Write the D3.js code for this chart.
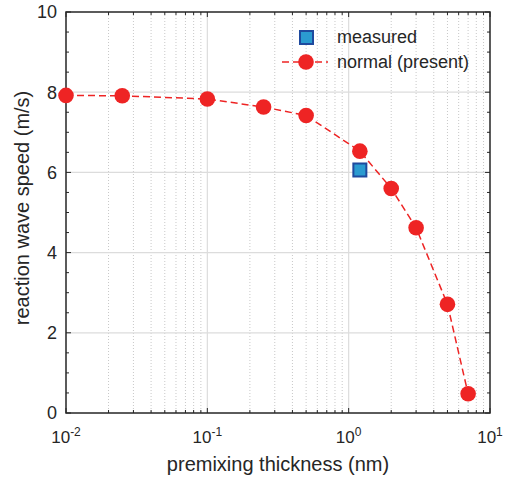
<!DOCTYPE html>
<html>
<head>
<meta charset="utf-8">
<script src="https://cdn.jsdelivr.net/npm/d3@7"></script>
<style>
  body { margin: 0; background: #fff; }
  text { font-family: "Liberation Sans", Arial, sans-serif; fill: #262626; }
</style>
</head>
<body>
<svg id="chart" width="511" height="479"></svg>
<script>
const thickness = [0.01, 0.025, 0.1, 0.25, 0.5, 1.2, 2, 3, 5, 7];
const speed = [7.92, 7.91, 7.83, 7.63, 7.42, 6.53, 5.6, 4.62, 2.71, 0.48];
const measuredX = [1.2];
const measuredY = [6.06];
const yTicks = [0, 2, 4, 6, 8, 10];
const xDecades = [-2, -1, 0, 1];

const svg = d3.select("#chart");
const margin = { top: 12, right: 21, bottom: 66, left: 66 };
const width = 511 - margin.left - margin.right;
const height = 479 - margin.top - margin.bottom;

const g = svg.append("g").attr("transform", `translate(${margin.left},${margin.top})`);

const x = d3.scaleLog().domain([0.01, 10]).range([0, width]);
const y = d3.scaleLinear().domain([0, 10]).range([height, 0]);

// minor log values
const minors = [];
xDecades.slice(0, -1).forEach(e => {
  for (let k = 2; k <= 9; k++) minors.push(k * Math.pow(10, e));
});
const majors = xDecades.map(e => Math.pow(10, e));

// grid
g.append("g").selectAll("line").data(minors).enter().append("line")
  .attr("x1", d => x(d)).attr("x2", d => x(d))
  .attr("y1", 0).attr("y2", height)
  .attr("stroke", "#c8c8c8").attr("stroke-width", 1)
  .attr("stroke-dasharray", "1,2");

g.append("g").selectAll("line").data(majors.slice(1, -1)).enter().append("line")
  .attr("x1", d => x(d)).attr("x2", d => x(d))
  .attr("y1", 0).attr("y2", height)
  .attr("stroke", "#dcdcdc").attr("stroke-width", 1.2);

g.append("g").selectAll("line").data(yTicks.slice(1, -1)).enter().append("line")
  .attr("x1", 0).attr("x2", width)
  .attr("y1", d => y(d)).attr("y2", d => y(d))
  .attr("stroke", "#dcdcdc").attr("stroke-width", 1.2);

// inward ticks
const yMinor = d3.range(0, 10.01, 0.5);
const tickG = g.append("g").attr("stroke", "#262626").attr("stroke-width", 1);
yMinor.forEach(v => {
  const len = yTicks.includes(v) ? 5 : 3;
  tickG.append("line").attr("x1", 0).attr("x2", len).attr("y1", y(v)).attr("y2", y(v));
  tickG.append("line").attr("x1", width).attr("x2", width - len).attr("y1", y(v)).attr("y2", y(v));
});
majors.concat(minors).forEach(v => {
  const len = majors.includes(v) ? 5 : 3;
  tickG.append("line").attr("x1", x(v)).attr("x2", x(v)).attr("y1", height).attr("y2", height - len);
  tickG.append("line").attr("x1", x(v)).attr("x2", x(v)).attr("y1", 0).attr("y2", len);
});

// frame
g.append("rect").attr("width", width).attr("height", height)
  .attr("fill", "none").attr("stroke", "#262626").attr("stroke-width", 1.5);

// y tick labels
g.append("g").selectAll("text").data(yTicks).enter().append("text")
  .attr("x", -9).attr("y", d => y(d)).attr("dy", "0.35em")
  .attr("text-anchor", "end").style("font-size", "18px")
  .text(d => d);

// x tick labels
const xl = g.append("g").selectAll("text").data(xDecades).enter().append("text")
  .attr("x", d => x(Math.pow(10, d)))
  .attr("y", height + 30)
  .attr("text-anchor", "middle").style("font-size", "17px");
xl.append("tspan").text("10");
xl.append("tspan").attr("dy", "-7").style("font-size", "12px").text(d => d);

// axis labels
g.append("text").attr("x", width / 2).attr("y", height + 58)
  .attr("text-anchor", "middle").style("font-size", "20px")
  .text("premixing thickness (nm)");
g.append("text").attr("transform", `translate(-37,${196}) rotate(-90)`)
  .attr("text-anchor", "middle").style("font-size", "20px")
  .text("reaction wave speed (m/s)");

// data line
const pts = thickness.map((t, i) => [x(t), y(speed[i])]);
const red = "#ee2424";
g.append("path").datum(pts)
  .attr("d", d3.line())
  .attr("fill", "none").attr("stroke", red).attr("stroke-width", 1.5)
  .attr("stroke-dasharray", "7,4");

g.append("g").selectAll("circle").data(pts).enter().append("circle")
  .attr("cx", d => d[0]).attr("cy", d => d[1]).attr("r", 7.8)
  .attr("fill", red);

// measured
g.append("g").selectAll("rect").data(measuredX).enter().append("rect")
  .attr("x", (d, i) => x(d) - 6.5).attr("y", (d, i) => y(measuredY[i]) - 6.5)
  .attr("width", 13).attr("height", 13)
  .attr("fill", "#2b9bd0").attr("stroke", "#1f4a9e").attr("stroke-width", 2);

// legend
const lg = svg.append("g");
lg.append("rect").attr("x", 300).attr("y", 31).attr("width", 13).attr("height", 13)
  .attr("fill", "#2b9bd0").attr("stroke", "#1f4a9e").attr("stroke-width", 2);
lg.append("text").attr("x", 337).attr("y", 37).attr("dy", "0.35em")
  .style("font-size", "18px").text("measured");
lg.append("line").attr("x1", 282).attr("x2", 328).attr("y1", 62).attr("y2", 62)
  .attr("stroke", red).attr("stroke-width", 1.5).attr("stroke-dasharray", "7,4");
lg.append("circle").attr("cx", 306).attr("cy", 62).attr("r", 7.8).attr("fill", red);
lg.append("text").attr("x", 337).attr("y", 62).attr("dy", "0.35em")
  .style("font-size", "18px").text("normal (present)");
</script>
</body>
</html>
